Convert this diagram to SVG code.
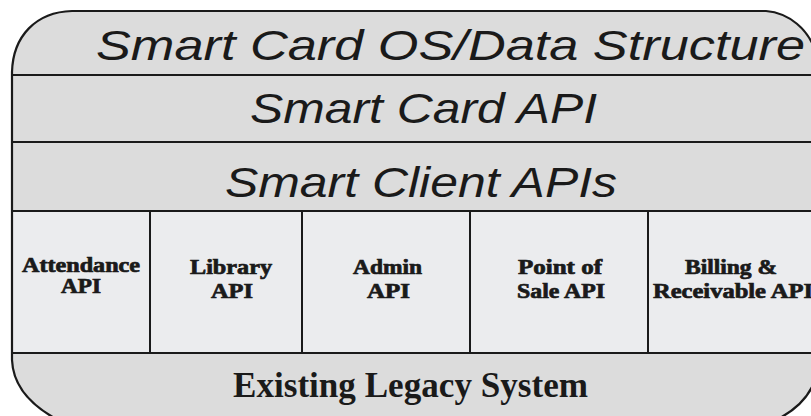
<svg xmlns="http://www.w3.org/2000/svg" width="811" height="416" viewBox="0 0 811 416">
<style>
.band{fill:#dcdcdc}
.box{fill:#ebecee}
.ln{stroke:#1a1a1a;stroke-width:2;fill:none}
.outline{fill:none;stroke:#1a1a1a;stroke-width:2.2;stroke-linejoin:round}
.t1{font-family:"Liberation Sans",Arial,sans-serif;font-style:italic;font-size:43px;fill:#1a1a1a;text-anchor:middle}
.t2{font-family:"Liberation Serif","Times New Roman",serif;font-weight:bold;font-size:20px;fill:#1a1a1a;stroke:#1a1a1a;stroke-width:0.7;text-anchor:middle}
.t3{font-family:"Liberation Serif","Times New Roman",serif;font-weight:bold;font-size:35px;fill:#1a1a1a;text-anchor:middle}
</style>
<rect width="811" height="416" fill="#ffffff"/>
<path id="shape" class="band" d="M12,72 C13,36 36,12 72,11 L766,11 C790,13 808,30 815,50 L815,380 C808,400 792,412 776,420 L58,420 C30,405 13,385 12,360 Z"/>
<rect class="box" x="12" y="211" width="803" height="142"/>
<g id="layer-os">
<text class="t1" x="450.5" y="60" textLength="709" lengthAdjust="spacingAndGlyphs">Smart Card OS/Data Structure</text>
</g>
<g id="layer-card-api">
<text class="t1" x="423.5" y="123" textLength="347" lengthAdjust="spacingAndGlyphs">Smart Card API</text>
</g>
<g id="layer-client-apis">
<text class="t1" x="421" y="197" textLength="392" lengthAdjust="spacingAndGlyphs">Smart Client APIs</text>
</g>
<g id="box-attendance">
<text class="t2" x="81" y="272" textLength="118" lengthAdjust="spacingAndGlyphs">Attendance</text>
<text class="t2" x="81" y="293" textLength="40" lengthAdjust="spacingAndGlyphs">API</text>
</g>
<g id="box-library">
<text class="t2" x="231" y="274" textLength="82" lengthAdjust="spacingAndGlyphs">Library</text>
<text class="t2" x="232" y="298" textLength="42" lengthAdjust="spacingAndGlyphs">API</text>
</g>
<g id="box-admin">
<text class="t2" x="387.5" y="274" textLength="69" lengthAdjust="spacingAndGlyphs">Admin</text>
<text class="t2" x="388.5" y="298" textLength="43" lengthAdjust="spacingAndGlyphs">API</text>
</g>
<g id="box-pos">
<text class="t2" x="560" y="274" textLength="84" lengthAdjust="spacingAndGlyphs">Point of</text>
<text class="t2" x="561" y="298" textLength="88" lengthAdjust="spacingAndGlyphs">Sale API</text>
</g>
<g id="box-billing">
<text class="t2" x="731" y="274" textLength="92" lengthAdjust="spacingAndGlyphs">Billing &amp;</text>
<text class="t2" x="733" y="298" textLength="160" lengthAdjust="spacingAndGlyphs">Receivable API</text>
</g>
<g id="layer-legacy">
<text class="t3" x="410.5" y="397" textLength="355" lengthAdjust="spacingAndGlyphs">Existing Legacy System</text>
</g>
<g id="connectors">
<line class="ln" x1="12" y1="75" x2="811" y2="75"/>
<line class="ln" x1="12" y1="142" x2="811" y2="142"/>
<line class="ln" x1="12" y1="211" x2="811" y2="211"/>
<line class="ln" x1="12" y1="353" x2="811" y2="353"/>
<line class="ln" x1="150" y1="211" x2="150" y2="353"/>
<line class="ln" x1="302" y1="211" x2="302" y2="353"/>
<line class="ln" x1="470" y1="211" x2="470" y2="353"/>
<line class="ln" x1="648" y1="211" x2="648" y2="353"/>
</g>
<path class="outline" d="M12,72 C13,36 36,12 72,11 L766,11 C790,13 808,30 815,50 L815,380 C808,400 792,412 776,420 L58,420 C30,405 13,385 12,360 Z"/>
</svg>
